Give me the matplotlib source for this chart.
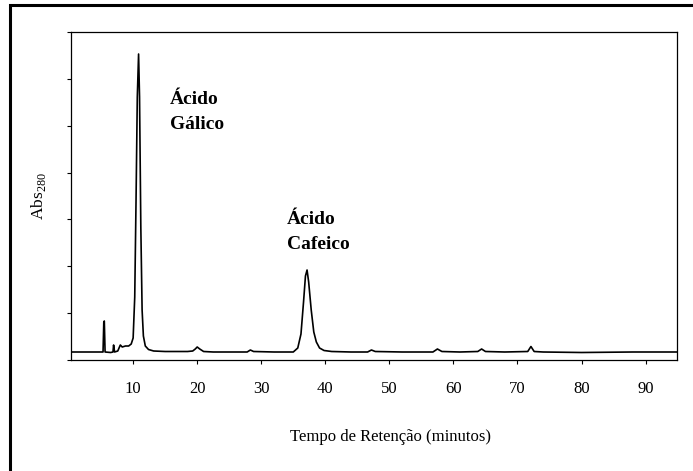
"""
Cromatograma HPLC (Abs 280 nm) com os picos de ácido gálico e ácido cafeico.
"""
import matplotlib
matplotlib.use("Agg")
import matplotlib.pyplot as plt
from matplotlib.patches import Rectangle

# traçado: tempo (min) e sinal (u.a.)
tempo = [0.3, 5.3, 5.42, 5.5, 5.62, 6.5, 6.85, 6.95, 7.1, 7.6, 8.0, 8.3, 8.8, 9.3, 9.7,
         10.0, 10.25, 10.45, 10.65, 10.85, 11.0, 11.2, 11.4, 11.6, 11.9, 12.4, 13.2, 15.0,
         18.5, 19.3, 19.7, 20.0, 20.4, 21.0, 22.5, 26.0, 27.8, 28.3, 28.8, 32.0, 35.0,
         35.7, 36.2, 36.6, 36.9, 37.15, 37.4, 37.8, 38.2, 38.6, 39.1, 39.8, 41.0, 44.0,
         46.6, 47.2, 47.8, 52.0, 56.8, 57.5, 58.2, 61.0, 63.8, 64.4, 65.0, 68.0, 71.6,
         72.1, 72.6, 74.0, 80.0, 88.0, 94.9]
sinal = [0, 0, 30, 31, 0, -0.5, 0, 7, 0, 1, 7, 5, 6, 6, 8,
         14, 55, 150, 255, 298, 255, 125, 42, 16, 6, 2.5, 1, 0.5,
         0.5, 1, 3, 5, 3, 0.5, 0, 0, 0, 2, 0.5, 0, 0,
         4, 18, 50, 76, 82, 70, 42, 20, 10, 4, 1.5, 0.5, 0,
         0, 2, 0.5, 0, 0, 3, 0.5, 0, 0.5, 3, 0.5, 0, 0.5,
         5.5, 0.5, 0, -0.5, 0, 0]

xticks = [10, 20, 30, 40, 50, 60, 70, 80, 90]
picos = [("Ácido\nGálico", 15.8, 240), ("Ácido\nCafeico", 34.0, 120)]

plt.rcParams["font.family"] = ["Liberation Serif", "DejaVu Serif"]

fig = plt.figure(figsize=(6.93, 4.71), dpi=100)
fig.add_artist(Rectangle((10 / 693, -0.5), 2.0, 1.5 - 5 / 471, transform=fig.transFigure,
                         fill=False, lw=2.2, ec="black"))

ax = fig.add_axes([71 / 693, 1 - 360 / 471, 606 / 693, 328 / 471])
ax.plot(tempo, sinal, color="black", lw=1.2)

ylo, yhi = -8, 320
ax.set_xlim(0.3, 94.9)
ax.set_ylim(ylo, yhi)
ax.set_xticks(xticks)
ax.set_xticklabels([str(v) for v in xticks], fontsize=12)
ax.set_yticks([ylo + i * (yhi - ylo) / 7 for i in range(8)])
ax.set_yticklabels([])
ax.tick_params(direction="out", length=3, width=0.8, pad=12)
for s in ax.spines.values():
    s.set_linewidth(0.9)

for txt, x, y in picos:
    ax.text(x, y, txt, fontsize=14, fontweight="bold", ha="left", va="center",
            linespacing=1.6)

ax.set_xlabel("Tempo de Retenção (minutos)", fontsize=12)
ax.set_ylabel("Abs$_{\\mathregular{280}}$", fontsize=12.5)
ax.xaxis.set_label_coords((390 - 71) / 606, -0.21)
ax.yaxis.set_label_coords(-(71 - 48) / 606, 0.5)

fig.savefig("out.png", dpi=100)
